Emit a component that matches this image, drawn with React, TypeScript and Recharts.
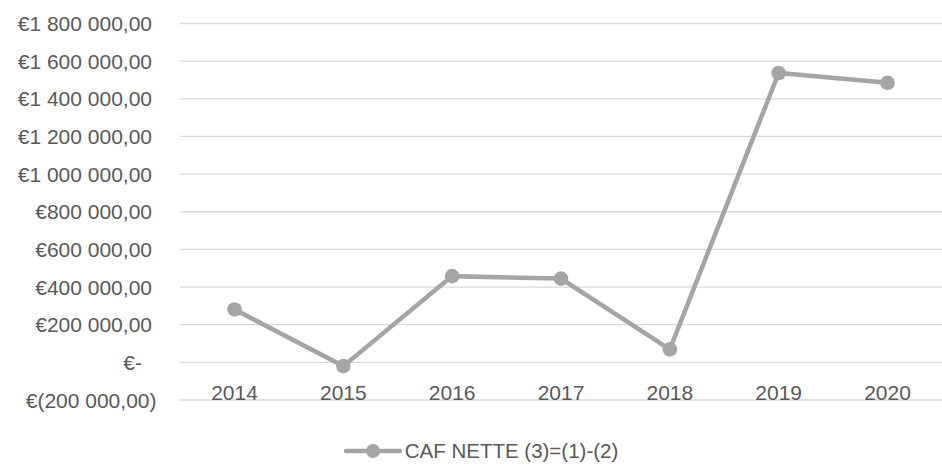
import { LineChart, Line, XAxis, YAxis, CartesianGrid, Legend } from 'recharts';

const years = ['2014', '2015', '2016', '2017', '2018', '2019', '2020'];
const cafNette = [281000, -20000, 458000, 445000, 69000, 1537000, 1485000];
const yTicks = [-200000, 0, 200000, 400000, 600000, 800000, 1000000, 1200000, 1400000, 1600000, 1800000];

const seriesName = 'CAF NETTE (3)=(1)-(2)';
const FONT = '"Liberation Sans", Arial, sans-serif';
const TEXT = '#595959';
const LINE = '#a5a5a5';

const data = years.map((year, i) => ({ year, caf: cafNette[i] }));

// French accounting style: €1 800 000,00 / €- / €(200 000,00)
const fmtEuro = (v: number) => {
  if (v === 0) return '€-';
  const s = Math.abs(v)
    .toFixed(2)
    .replace('.', ',')
    .replace(/\B(?=(\d{3})+(?!\d))/g, ' ');
  return v < 0 ? `€(${s})` : `€${s}`;
};

// eslint-disable-next-line @typescript-eslint/no-explicit-any
const YTick = ({ y, payload }: any) => {
  const v = payload.value as number;
  const endX = v === 0 ? 142 : v < 0 ? 156.5 : 152;
  return (
    <text x={endX} y={y} textAnchor="end" dominantBaseline="central" fill={TEXT} fontSize={21} fontFamily={FONT}>
      {fmtEuro(v)}
    </text>
  );
};

// eslint-disable-next-line @typescript-eslint/no-explicit-any
const XTick = ({ x, y, payload }: any) => (
  <text x={x} y={y} textAnchor="middle" fill={TEXT} fontSize={21} fontFamily={FONT}>
    {payload.value}
  </text>
);

const LegendContent = () => (
  <div style={{ display: 'flex', justifyContent: 'center', alignItems: 'center', height: 24, paddingLeft: 20 }}>
    <svg width={58} height={20} style={{ marginRight: 3 }}>
      <line x1={2} y1={10} x2={56} y2={10} stroke={LINE} strokeWidth={4.5} strokeLinecap="round" />
      <circle cx={29} cy={10} r={7} fill={LINE} />
    </svg>
    <span style={{ color: TEXT, fontSize: 20.5, fontFamily: FONT }}>{seriesName}</span>
  </div>
);

export default function App() {
  return (
    <div style={{ position: 'absolute', left: 0, top: 0, width: 942, height: 464, background: '#fff' }}>
      <LineChart width={942} height={464} data={data} margin={{ top: 23.5, right: 0, bottom: 0, left: 0 }}>
        <CartesianGrid vertical={false} stroke="#d9d9d9" strokeWidth={1.3} />
        <XAxis
          dataKey="year"
          axisLine={false}
          tickLine={false}
          tickSize={0}
          tickMargin={0}
          height={39}
          tick={<XTick />}
          interval={0}
          padding={{ left: 54.5, right: 54.5 }}
        />
        <YAxis
          width={180}
          domain={[-200000, 1800000]}
          ticks={yTicks}
          axisLine={false}
          tickLine={false}
          tick={<YTick />}
          interval={0}
        />
        <Legend verticalAlign="bottom" height={25} content={<LegendContent />} />
        <Line
          dataKey="caf"
          name={seriesName}
          stroke={LINE}
          strokeWidth={4.5}
          dot={{ r: 7.3, fill: LINE, stroke: LINE, strokeWidth: 0 }}
          activeDot={false}
          isAnimationActive={false}
        />
      </LineChart>
    </div>
  );
}
